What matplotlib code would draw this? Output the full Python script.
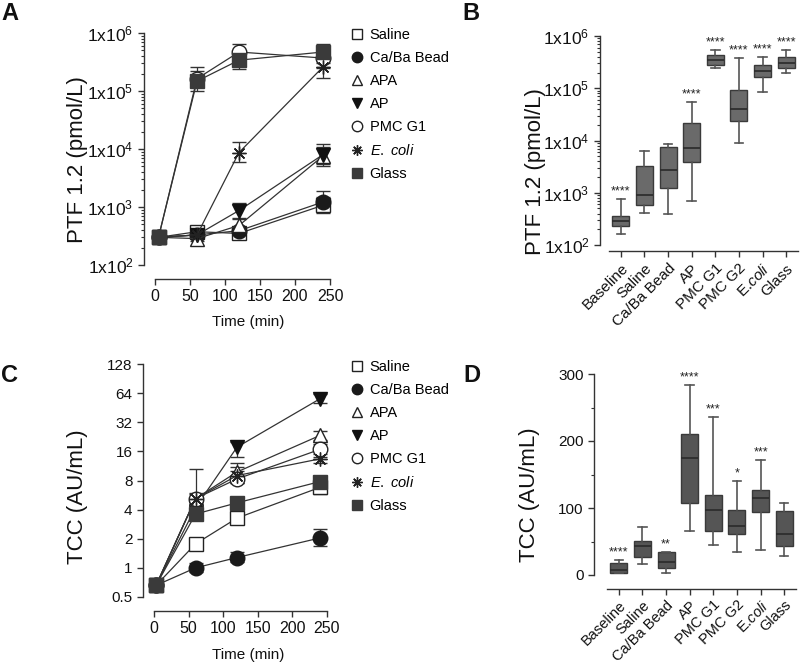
import matplotlib
matplotlib.use("Agg")
import matplotlib.pyplot as plt
from matplotlib.lines import Line2D
from matplotlib.ticker import LogLocator, NullFormatter, FixedLocator

plt.rcParams["font.family"] = ["Liberation Sans", "DejaVu Sans"]
plt.rcParams["mathtext.fontset"] = "custom"
plt.rcParams["mathtext.rm"] = "Liberation Sans"
plt.rcParams["mathtext.it"] = "Liberation Sans:italic"

W, H = 800, 665

# ---- time course data (panels A, C) ----
time_a = [5, 60, 120, 240]
time_c = [3, 60, 120, 240]
groups = ["Saline", "Ca/Ba Bead", "APA", "AP", "PMC G1", "E. coli", "Glass"]
legend_labels = ["Saline", "Ca/Ba Bead", "APA", "AP", "PMC G1",
                 r"$\it{E.\ coli}$", "Glass"]

# PTF 1.2 (pmol/L): mean, lower, upper
ptf_mean = {
    "Saline":     [300, 375, 350, 1070],
    "Ca/Ba Bead": [300, 330, 390, 1220],
    "APA":        [300, 285, 480, 7600],
    "AP":         [300, 330, 870, 8000],
    "PMC G1":     [300, 163000, 470000, 370000],
    "E. coli":    [300, 330, 8700, 260000],
    "Glass":      [300, 148000, 340000, 470000],
}
ptf_lo = {
    "Saline":     [250, 340, 300, 800],
    "Ca/Ba Bead": [260, 300, 350, 850],
    "APA":        [260, 260, 380, 5000],
    "AP":         [260, 300, 650, 5500],
    "PMC G1":     [260, 120000, 300000, 250000],
    "E. coli":    [260, 300, 6000, 170000],
    "Glass":      [260, 100000, 240000, 300000],
}
ptf_hi = {
    "Saline":     [340, 420, 420, 1500],
    "Ca/Ba Bead": [340, 360, 440, 1900],
    "APA":        [340, 310, 620, 11000],
    "AP":         [340, 360, 1150, 12000],
    "PMC G1":     [340, 220000, 650000, 550000],
    "E. coli":    [340, 360, 13000, 330000],
    "Glass":      [340, 260000, 450000, 650000],
}

# TCC (AU/mL)
tcc_mean = {
    "Saline":     [0.66, 1.77, 3.27, 6.8],
    "Ca/Ba Bead": [0.66, 1.0, 1.28, 2.04],
    "APA":        [0.66, 5.2, 9.8, 23.4],
    "AP":         [0.66, 4.2, 17.7, 56],
    "PMC G1":     [0.66, 5.2, 8.3, 16.8],
    "E. coli":    [0.66, 5.2, 9.0, 13.4],
    "Glass":      [0.66, 3.6, 4.7, 7.8],
}
tcc_lo = {
    "Saline":     [0.6, 1.6, 2.9, 5.8],
    "Ca/Ba Bead": [0.6, 0.9, 1.15, 1.7],
    "APA":        [0.6, 4.6, 8.0, 21],
    "AP":         [0.6, 3.8, 14, 50],
    "PMC G1":     [0.6, 4.5, 7.5, 14],
    "E. coli":    [0.6, 4.5, 7.5, 12],
    "Glass":      [0.6, 3.3, 4.3, 7.0],
}
tcc_hi = {
    "Saline":     [0.72, 1.95, 3.6, 7.8],
    "Ca/Ba Bead": [0.72, 1.12, 1.45, 2.5],
    "APA":        [0.72, 5.8, 12, 26],
    "AP":         [0.72, 4.6, 20, 62],
    "PMC G1":     [0.72, 10.6, 10, 19],
    "E. coli":    [0.72, 6.0, 11, 15],
    "Glass":      [0.72, 4.0, 5.1, 8.6],
}

# ---- box plot data (panels B, D) ----
box_cats = ["Baseline", "Saline", "Ca/Ba Bead", "AP", "PMC G1", "PMC G2",
            r"E.$\it{coli}$", "Glass"]
# PTF 1.2: whisker low, q1, median, q3, whisker high
ptf_box_lo = [162, 417, 400, 695, 245000, 9100, 84000, 195000]
ptf_box_q1 = [233, 590, 1230, 3830, 282000, 23300, 165000, 245000]
ptf_box_med = [286, 915, 2780, 7100, 340000, 40400, 218000, 310000]
ptf_box_q3 = [366, 3300, 7400, 21900, 425000, 93000, 282000, 405000]
ptf_box_hi = [750, 6200, 8500, 55000, 540000, 387000, 405000, 540000]
ptf_stars = ["****", "", "", "****", "****", "****", "****", "****"]

tcc_box_lo = [2.5, 17, 3.4, 66, 45, 34, 38, 29]
tcc_box_q1 = [3.5, 27, 9.8, 107, 66, 61, 94, 44]
tcc_box_med = [8, 43, 19.6, 175, 96.5, 73.5, 115, 61]
tcc_box_q3 = [18.6, 50.5, 34, 210, 120, 97.5, 127, 95.5]
tcc_box_hi = [22, 71.6, 34, 284, 236, 141, 171.5, 107]
tcc_stars = ["****", "", "**", "****", "***", "*", "***", ""]

styles = {
    "Saline":     dict(marker="s", mfc="white", mec="#222222", ms=9.5),
    "Ca/Ba Bead": dict(marker="o", mfc="#1a1a1a", mec="#1a1a1a", ms=10.5),
    "APA":        dict(marker="^", mfc="white", mec="#222222", ms=10.5),
    "AP":         dict(marker="v", mfc="#111111", mec="#111111", ms=10.5),
    "PMC G1":     dict(marker="o", mfc="white", mec="#222222", ms=10.5),
    "E. coli":    dict(marker=(8, 2, 0), mfc="#222222", mec="#222222", ms=10),
    "Glass":      dict(marker="s", mfc="#3a3a3a", mec="#3a3a3a", ms=9.5),
}

PX = 0.72  # points per pixel at dpi 100


def px_axes(fig, x0, x1, ytop, ybot):
    return fig.add_axes([x0 / W, 1 - ybot / H, (x1 - x0) / W, (ybot - ytop) / H])


def style_axes(ax, left_out, bottom_out):
    ax.spines["top"].set_visible(False)
    ax.spines["right"].set_visible(False)
    ax.spines["left"].set_position(("outward", left_out * PX))
    ax.spines["bottom"].set_position(("outward", bottom_out * PX))
    for s in ("left", "bottom"):
        ax.spines[s].set_color("#333333")
        ax.spines[s].set_linewidth(1.0)
    ax.tick_params(direction="out", length=4, width=1, color="#333333",
                   labelcolor="#111111")
    ax.tick_params(which="minor", direction="out", length=2.5, width=0.8,
                   color="#333333")
    ax.patch.set_alpha(0)


def draw_timecourse(ax, t, mean, lo, hi):
    for g in groups:
        st = styles[g]
        yerr = [[m - l for m, l in zip(mean[g], lo[g])],
                [h - m for m, h in zip(mean[g], hi[g])]]
        ax.errorbar(t, mean[g], yerr=yerr, color="#333333", lw=0.9,
                    elinewidth=0.9, capsize=5, capthick=0.9,
                    marker=st["marker"], mfc=st["mfc"], mec=st["mec"],
                    ms=st["ms"], mew=1.0, clip_on=False, zorder=3)


def legend_for(ax, fig, ytop):
    handles = []
    for g in groups:
        st = styles[g]
        handles.append(Line2D([], [], ls="none", marker=st["marker"],
                              mfc=st["mfc"], mec=st["mec"], ms=7.5, mew=1.0))
    ax.legend(handles, legend_labels, loc="upper left",
              bbox_to_anchor=(350 / W, 1 - ytop / H),
              bbox_transform=fig.transFigure, frameon=False, fontsize=10.5,
              handletextpad=0.35, labelspacing=0.62, handlelength=1.0,
              borderaxespad=0, borderpad=0)


def draw_boxes(ax, lo, q1, med, q3, hi, face):
    stats = []
    for i in range(len(box_cats)):
        stats.append(dict(whislo=lo[i], q1=q1[i], med=med[i], q3=q3[i],
                          whishi=hi[i], fliers=[]))
    ax.bxp(stats, positions=range(len(box_cats)), widths=0.72,
           patch_artist=True, showfliers=False,
           boxprops=dict(facecolor=face, edgecolor="#3a3a3a", lw=1.0),
           medianprops=dict(color="#2a2a2a", lw=1.2),
           whiskerprops=dict(color="#555555", lw=1.2),
           capprops=dict(color="#555555", lw=1.2), capwidths=0.36)


def draw_stars(ax, hi, stars):
    for i, s in enumerate(stars):
        if s:
            ax.annotate(s, (i, hi[i]), xytext=(0, 1), textcoords="offset points",
                        ha="center", va="bottom", fontsize=9, color="#222222")


fig = plt.figure(figsize=(W / 100, H / 100), dpi=100)

# ---------------- Panel A ----------------
axA = px_axes(fig, 155, 330, 33, 265)
style_axes(axA, 11, 14)
axA.set_yscale("log")
draw_timecourse(axA, time_a, ptf_mean, ptf_lo, ptf_hi)
axA.set_xlim(0, 250)
axA.set_ylim(1e2, 1e6)
axA.set_xticks([0, 50, 100, 150, 200, 250])
axA.set_yticks([1e2, 1e3, 1e4, 1e5, 1e6])
axA.set_yticklabels([r"1x10$^{2}$", r"1x10$^{3}$", r"1x10$^{4}$",
                     r"1x10$^{5}$", r"1x10$^{6}$"], fontsize=12.5)
axA.yaxis.set_minor_locator(LogLocator(base=10, subs=range(2, 10)))
axA.yaxis.set_minor_formatter(NullFormatter())
axA.tick_params(axis="x", labelsize=11.5)
legend_for(axA, fig, 28)
fig.text(77 / W, 1 - 160 / H, "PTF 1.2 (pmol/L)", rotation=90, ha="center",
         va="center", fontsize=16, color="#111111")
fig.text(248 / W, 1 - 322 / H, "Time (min)", ha="center", va="center",
         fontsize=11, color="#111111")

# ---------------- Panel B ----------------
axB = px_axes(fig, 609, 798, 36, 245)
style_axes(axB, 9, 6)
axB.set_yscale("log")
draw_boxes(axB, ptf_box_lo, ptf_box_q1, ptf_box_med, ptf_box_q3, ptf_box_hi,
           "#6a6a6a")
draw_stars(axB, ptf_box_hi, ptf_stars)
axB.set_xlim(-0.5, len(box_cats) - 0.5)
axB.set_ylim(1e2, 1e6)
axB.set_yticks([1e2, 1e3, 1e4, 1e5, 1e6])
axB.set_yticklabels([r"1x10$^{2}$", r"1x10$^{3}$", r"1x10$^{4}$",
                     r"1x10$^{5}$", r"1x10$^{6}$"], fontsize=12.5)
axB.yaxis.set_minor_locator(LogLocator(base=10, subs=range(2, 10)))
axB.yaxis.set_minor_formatter(NullFormatter())
axB.set_xticks(range(len(box_cats)))
axB.set_xticklabels(box_cats, rotation=45, ha="right", rotation_mode="anchor",
                    fontsize=11)
fig.text(536 / W, 1 - 172 / H, "PTF 1.2 (pmol/L)", rotation=90, ha="center",
         va="center", fontsize=16, color="#111111")

# ---------------- Panel C ----------------
axC = px_axes(fig, 154, 327, 364, 597)
style_axes(axC, 11, 14)
axC.set_yscale("log", base=2)
draw_timecourse(axC, time_c, tcc_mean, tcc_lo, tcc_hi)
axC.set_xlim(0, 250)
axC.set_ylim(0.5, 128)
axC.set_xticks([0, 50, 100, 150, 200, 250])
c_ticks = [0.5, 1, 2, 4, 8, 16, 32, 64, 128]
axC.yaxis.set_major_locator(FixedLocator(c_ticks))
axC.set_yticklabels(["0.5", "1", "2", "4", "8", "16", "32", "64", "128"],
                    fontsize=11)
axC.yaxis.set_minor_locator(FixedLocator([]))
axC.tick_params(axis="x", labelsize=11.5)
legend_for(axC, fig, 360)
fig.text(77 / W, 1 - 497 / H, "TCC (AU/mL)", rotation=90, ha="center",
         va="center", fontsize=16, color="#111111")
fig.text(248 / W, 1 - 655 / H, "Time (min)", ha="center", va="center",
         fontsize=11, color="#111111")

# ---------------- Panel D ----------------
axD = px_axes(fig, 607, 796, 374, 575)
style_axes(axD, 13, 14)
draw_boxes(axD, tcc_box_lo, tcc_box_q1, tcc_box_med, tcc_box_q3, tcc_box_hi,
           "#555555")
draw_stars(axD, tcc_box_hi, tcc_stars)
axD.set_xlim(-0.5, len(box_cats) - 0.5)
axD.set_ylim(0, 300)
axD.set_yticks([0, 100, 200, 300])
axD.yaxis.set_minor_locator(FixedLocator([50, 150, 250]))
axD.tick_params(axis="y", labelsize=11)
axD.set_xticks(range(len(box_cats)))
axD.set_xticklabels(box_cats, rotation=45, ha="right", rotation_mode="anchor",
                    fontsize=10.5)
axD.tick_params(axis="x", pad=2.5)
fig.text(530 / W, 1 - 495 / H, "TCC (AU/mL)", rotation=90, ha="center",
         va="center", fontsize=16, color="#111111")

# panel letters
for lab, x, y in [("A", 10, 14), ("B", 471, 13), ("C", 9, 376), ("D", 472, 376)]:
    fig.text(x / W, 1 - y / H, lab, ha="center", va="center", fontsize=17,
             fontweight="bold", color="#111111")

fig.savefig("out.png", dpi=100)
